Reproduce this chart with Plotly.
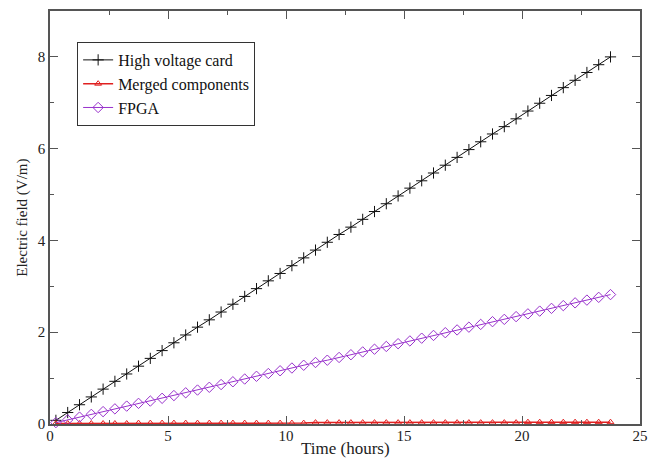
import plotly.graph_objects as go

time_h = [0.25, 0.75, 1.25, 1.75, 2.25, 2.75, 3.25, 3.75, 4.25, 4.75, 5.25, 5.75,
          6.25, 6.75, 7.25, 7.75, 8.25, 8.75, 9.25, 9.75, 10.25, 10.75, 11.25, 11.75,
          12.25, 12.75, 13.25, 13.75, 14.25, 14.75, 15.25, 15.75, 16.25, 16.75, 17.25, 17.75,
          18.25, 18.75, 19.25, 19.75, 20.25, 20.75, 21.25, 21.75, 22.25, 22.75, 23.25, 23.75]

high_voltage = [0.08, 0.25, 0.42, 0.59, 0.76, 0.93, 1.09, 1.26, 1.43, 1.60, 1.77, 1.94,
                2.11, 2.27, 2.44, 2.61, 2.78, 2.95, 3.12, 3.28, 3.45, 3.62, 3.79, 3.96,
                4.13, 4.29, 4.46, 4.63, 4.80, 4.97, 5.14, 5.30, 5.47, 5.64, 5.81, 5.98,
                6.15, 6.32, 6.48, 6.65, 6.82, 6.99, 7.16, 7.33, 7.49, 7.66, 7.83, 8.00]

merged = [0.01, 0.01, 0.01, 0.01, 0.01, 0.01, 0.01, 0.02, 0.02, 0.02, 0.02, 0.02,
          0.02, 0.02, 0.02, 0.02, 0.02, 0.02, 0.02, 0.02, 0.02, 0.02, 0.03, 0.03,
          0.03, 0.03, 0.03, 0.03, 0.03, 0.03, 0.03, 0.03, 0.03, 0.03, 0.03, 0.03,
          0.03, 0.03, 0.03, 0.03, 0.04, 0.04, 0.04, 0.04, 0.04, 0.04, 0.04, 0.04]

fpga = [0.03, 0.09, 0.15, 0.21, 0.27, 0.33, 0.39, 0.45, 0.50, 0.56, 0.62, 0.68,
        0.74, 0.80, 0.86, 0.92, 0.98, 1.04, 1.10, 1.16, 1.22, 1.28, 1.34, 1.39,
        1.45, 1.51, 1.57, 1.63, 1.69, 1.75, 1.81, 1.87, 1.93, 1.99, 2.05, 2.11,
        2.17, 2.23, 2.28, 2.34, 2.40, 2.46, 2.52, 2.58, 2.64, 2.70, 2.76, 2.82]

x_ticks = [0, 5, 10, 15, 20, 25]
y_ticks = [0, 2, 4, 6, 8]

SERIF = "Liberation Serif, Times New Roman, serif"
FPGA_COLOR = "#9932CC"
AXIS_COLOR = "#555555"
TEXT_COLOR = "#222222"

fig = go.Figure()
fig.add_trace(go.Scatter(
    x=time_h, y=high_voltage, name="High voltage card", mode="lines+markers",
    line=dict(color="#111111", width=1),
    marker=dict(symbol="cross-thin-open", size=8, color="#111111", line=dict(width=1, color="#111111")),
    cliponaxis=False))
fig.add_trace(go.Scatter(
    x=time_h, y=merged, name="Merged components", mode="lines+markers",
    line=dict(color="#E02020", width=1.5),
    marker=dict(symbol="triangle-up-open", size=6, color="#E02020", line=dict(width=1, color="#E02020")),
    cliponaxis=False))
fig.add_trace(go.Scatter(
    x=time_h, y=fpga, name="FPGA", mode="lines+markers",
    line=dict(color=FPGA_COLOR, width=1),
    marker=dict(symbol="diamond-open", size=8, color=FPGA_COLOR, line=dict(width=1, color=FPGA_COLOR)),
    cliponaxis=False))

axis_common = dict(
    showgrid=False, zeroline=False, showline=True, linecolor=AXIS_COLOR, linewidth=1.5,
    mirror="allticks", ticks="inside", ticklen=8, tickwidth=1, tickcolor=AXIS_COLOR,
    tickfont=dict(family=SERIF, size=15, color=TEXT_COLOR), automargin=False,
)

fig.update_xaxes(range=[0, 25], tickvals=x_ticks, ticktext=[str(v) for v in x_ticks],
                 minor=dict(ticks="inside", ticklen=4, dtick=2.5, tick0=0, tickcolor=AXIS_COLOR),
                 ticklabelstandoff=-3,
                 **axis_common)
fig.update_yaxes(range=[0, 9], tickvals=y_ticks, ticktext=[str(v) for v in y_ticks],
                 minor=dict(ticks="inside", ticklen=4, dtick=1, tick0=0, tickcolor=AXIS_COLOR),
                 **axis_common)

fig.add_annotation(text="Time (hours)", xref="paper", yref="paper", x=0.5, y=-0.06,
                   xanchor="center", yanchor="middle", showarrow=False,
                   font=dict(family=SERIF, size=17, color=TEXT_COLOR))
fig.add_annotation(text="Electric field (V/m)", xref="paper", yref="paper", x=-0.047, y=0.5,
                   xanchor="center", yanchor="middle", textangle=-90, showarrow=False,
                   font=dict(family=SERIF, size=15, color=TEXT_COLOR))

fig.update_layout(
    width=657, height=463,
    margin=dict(l=50, r=17, t=11, b=39),
    paper_bgcolor="white", plot_bgcolor="white",
    showlegend=True,
    legend=dict(x=0.046, y=0.925, xanchor="left", yanchor="top",
                bordercolor="#333333", borderwidth=1, bgcolor="white",
                font=dict(family=SERIF, size=16, color="#111111"),
                tracegroupgap=0, itemwidth=30),
)

fig.write_html("out.html", config={"displayModeBar": False},
               post_script="document.body.style.margin='0';")
